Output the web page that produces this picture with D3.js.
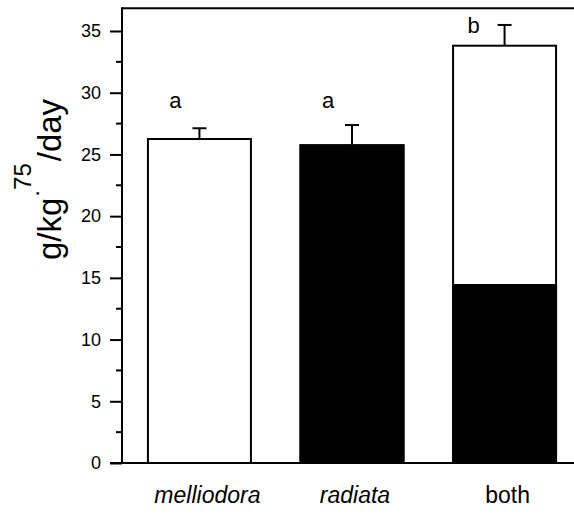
<!DOCTYPE html>
<html>
<head>
<meta charset="utf-8">
<script src="https://cdn.jsdelivr.net/npm/d3@7"></script>
<style>
  body { margin: 0; background: #fff; }
  svg { display: block; font-family: "Liberation Sans", Arial, Helvetica, sans-serif; }
</style>
</head>
<body>
<svg id="chart" width="574" height="518"></svg>
<script>
/*
    Chart data
 */
var groups = ["melliodora", "radiata", "both"];
var italicLabel = [true, true, false];
var totalValue = [26.25, 25.74, 33.81];      // bar height
var blackPart = [0, 25.74, 14.42];           // filled (radiata) portion
var errValue = [0.87, 1.64, 1.68];           // error bar above bar
var sigLetters = ["a", "a", "b"];
var sigLevel = [28.8, 28.8, 34.8];
var yTicks = [0, 5, 10, 15, 20, 25, 30, 35];
var yMinorTicks = [2.5, 7.5, 12.5, 17.5, 22.5, 27.5, 32.5];

var svg = d3.select("#chart");

var y = d3.scaleLinear()
    .domain([0, 35])
    .range([463, 31]);

var x = d3.scaleBand()
    .domain(groups)
    .range([122, 582])
    .paddingInner(0.325)
    .paddingOuter(0.17);

var topValue = 36.85;

/*
    Bars: white outline with black portion
 */
var bars = svg.selectAll(".bar")
    .data(groups)
    .enter().append("g")
    .attr("class", "bar");

bars.append("rect")
    .attr("x", function(d){ return x(d); })
    .attr("y", function(d, i){ return y(totalValue[i]); })
    .attr("width", x.bandwidth())
    .attr("height", function(d, i){ return y(0) - y(totalValue[i]); })
    .attr("fill", "#fff")
    .attr("stroke", "#000")
    .attr("stroke-width", 2);

bars.append("rect")
    .attr("x", function(d){ return x(d); })
    .attr("y", function(d, i){ return y(blackPart[i]); })
    .attr("width", x.bandwidth())
    .attr("height", function(d, i){ return y(0) - y(blackPart[i]); })
    .attr("fill", "#000")
    .attr("stroke", "#000")
    .attr("stroke-width", 2);

// error bars
bars.append("line")
    .attr("x1", function(d){ return x(d) + x.bandwidth() / 2; })
    .attr("x2", function(d){ return x(d) + x.bandwidth() / 2; })
    .attr("y1", function(d, i){ return y(totalValue[i]); })
    .attr("y2", function(d, i){ return y(totalValue[i] + errValue[i]); })
    .attr("stroke", "#000")
    .attr("stroke-width", 2);

bars.append("line")
    .attr("x1", function(d){ return x(d) + x.bandwidth() / 2 - 7; })
    .attr("x2", function(d){ return x(d) + x.bandwidth() / 2 + 7; })
    .attr("y1", function(d, i){ return y(totalValue[i] + errValue[i]); })
    .attr("y2", function(d, i){ return y(totalValue[i] + errValue[i]); })
    .attr("stroke", "#000")
    .attr("stroke-width", 2);

// significance letters
bars.append("text")
    .attr("x", function(d, i){ return x(d) + x.bandwidth() / 2 - (i === 2 ? 31 : 24); })
    .attr("y", function(d, i){ return y(sigLevel[i]); })
    .attr("text-anchor", "middle")
    .attr("font-size", 22)
    .text(function(d, i){ return sigLetters[i]; });

/*
    Frame and axes
 */
svg.append("line")
    .attr("x1", 122).attr("x2", 574)
    .attr("y1", y(topValue)).attr("y2", y(topValue))
    .attr("stroke", "#000").attr("stroke-width", 2);

svg.append("line")
    .attr("x1", 122).attr("x2", 122)
    .attr("y1", y(topValue) - 1).attr("y2", y(0))
    .attr("stroke", "#000").attr("stroke-width", 2);

svg.append("line")
    .attr("x1", 110).attr("x2", 574)
    .attr("y1", y(0)).attr("y2", y(0))
    .attr("stroke", "#000").attr("stroke-width", 2);

var yAxis = svg.append("g")
    .attr("transform", "translate(122,0)")
    .call(d3.axisLeft(y).tickValues(yTicks).tickSize(12).tickPadding(9).tickFormat(d3.format("d")));

yAxis.select(".domain").remove();
yAxis.selectAll(".tick line").attr("stroke-width", 2);
yAxis.selectAll(".tick text")
    .attr("font-size", 18)
    .attr("font-family", "Liberation Sans, Arial, sans-serif")
    .attr("fill", "#000");

svg.append("g")
    .selectAll("line")
    .data(yMinorTicks)
    .enter().append("line")
    .attr("x1", 116).attr("x2", 122)
    .attr("y1", function(d){ return y(d); })
    .attr("y2", function(d){ return y(d); })
    .attr("stroke", "#000").attr("stroke-width", 2);

// category labels
svg.append("g")
    .selectAll("text")
    .data(groups)
    .enter().append("text")
    .attr("x", function(d){ return x(d) + x.bandwidth() / 2 + (d === "melliodora" ? 8 : 3); })
    .attr("y", 503)
    .attr("text-anchor", "middle")
    .attr("font-size", 23)
    .attr("font-style", function(d, i){ return italicLabel[i] ? "italic" : "normal"; })
    .text(function(d){ return d; });

// y-axis title
var title = svg.append("text")
    .attr("transform", "translate(61,260) rotate(-90)")
    .attr("font-size", 33);

title.append("tspan").text("g/kg");
title.append("tspan").attr("font-size", 24).attr("dy", -22).attr("dx", 1).text(".");
title.append("tspan").attr("font-size", 24).attr("dy", -8).text("75");
title.append("tspan").attr("dy", 30).attr("dx", 2).text("/day");
</script>
</body>
</html>
